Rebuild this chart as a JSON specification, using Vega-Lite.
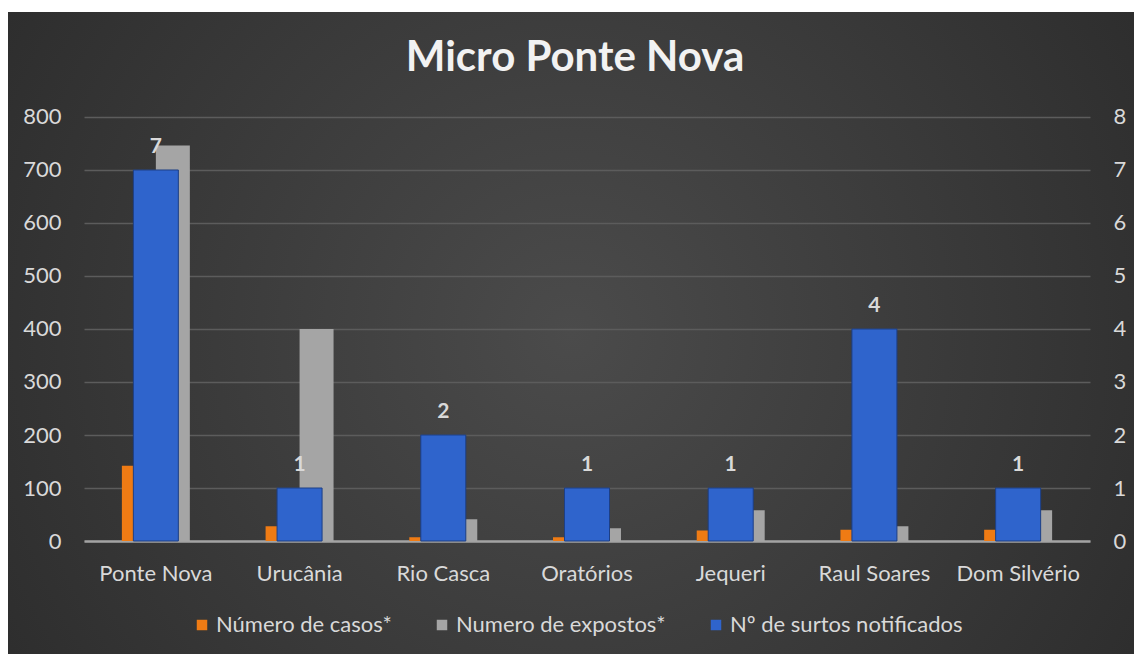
{
  "$schema": "https://vega.github.io/schema/vega-lite/v6.json",
  "width": 1126,
  "height": 642,
  "autosize": {"type": "none"},
  "padding": {"left": 8, "top": 12, "right": 0, "bottom": 0},
  "background": "white",
  "config": {
    "view": {
      "stroke": null,
      "fill": {
        "gradient": "radial",
        "stops": [
          {"offset": 0, "color": "#4b4b4b"},
          {"offset": 1, "color": "#252525"}
        ],
        "x1": 0.5, "y1": 0.5, "r1": 0,
        "x2": 0.5, "y2": 0.5, "r2": 0.75
      }
    },
    "font": "Lato"
  },
  "title": {
    "text": "Micro Ponte Nova",
    "font": "Lato",
    "fontSize": 42,
    "fontWeight": "bold",
    "color": "#f2f2f2",
    "anchor": "middle",
    "frame": "group",
    "orient": "top",
    "offset": -68,
    "dx": 4
  },
  "datasets": {
    "primary": [
      {"municipio": "Ponte Nova", "serie": "Número de casos*", "valor": 142},
      {"municipio": "Ponte Nova", "serie": "Numero de expostos*", "valor": 746},
      {"municipio": "Urucânia", "serie": "Número de casos*", "valor": 28},
      {"municipio": "Urucânia", "serie": "Numero de expostos*", "valor": 400},
      {"municipio": "Rio Casca", "serie": "Número de casos*", "valor": 7},
      {"municipio": "Rio Casca", "serie": "Numero de expostos*", "valor": 41},
      {"municipio": "Oratórios", "serie": "Número de casos*", "valor": 7},
      {"municipio": "Oratórios", "serie": "Numero de expostos*", "valor": 24},
      {"municipio": "Jequeri", "serie": "Número de casos*", "valor": 20},
      {"municipio": "Jequeri", "serie": "Numero de expostos*", "valor": 58},
      {"municipio": "Raul Soares", "serie": "Número de casos*", "valor": 21},
      {"municipio": "Raul Soares", "serie": "Numero de expostos*", "valor": 28},
      {"municipio": "Dom Silvério", "serie": "Número de casos*", "valor": 21},
      {"municipio": "Dom Silvério", "serie": "Numero de expostos*", "valor": 58}
    ],
    "surtos": [
      {"municipio": "Ponte Nova", "serie": "Nº de surtos notificados", "valor": 7},
      {"municipio": "Urucânia", "serie": "Nº de surtos notificados", "valor": 1},
      {"municipio": "Rio Casca", "serie": "Nº de surtos notificados", "valor": 2},
      {"municipio": "Oratórios", "serie": "Nº de surtos notificados", "valor": 1},
      {"municipio": "Jequeri", "serie": "Nº de surtos notificados", "valor": 1},
      {"municipio": "Raul Soares", "serie": "Nº de surtos notificados", "valor": 4},
      {"municipio": "Dom Silvério", "serie": "Nº de surtos notificados", "valor": 1}
    ]
  },
  "layer": [
    {
      "data": {"name": "primary"},
      "mark": {"type": "bar"},
      "encoding": {
        "x": {
          "field": "municipio",
          "type": "nominal",
          "sort": ["Ponte Nova", "Urucânia", "Rio Casca", "Oratórios", "Jequeri", "Raul Soares", "Dom Silvério"],
          "scale": {"range": [76, 1082], "paddingInner": 0.527, "paddingOuter": 0.2635},
          "axis": {
            "title": null,
            "orient": "bottom",
            "offset": -113,
            "ticks": false,
            "tickSize": 0,
            "labelAngle": 0,
            "labelFont": "Lato",
            "labelFontSize": 22,
            "labelColor": "#d9d9d9",
            "labelBaseline": "alphabetic",
            "labelPadding": 39,
            "domainColor": "#a3a3a3",
            "domainWidth": 2.5,
            "grid": false
          }
        },
        "xOffset": {
          "field": "serie",
          "type": "nominal",
          "sort": ["Número de casos*", "Numero de expostos*"],
          "scale": {"paddingInner": 0, "paddingOuter": 0}
        },
        "y": {
          "field": "valor",
          "type": "quantitative",
          "scale": {"domain": [-213.2, 998.1], "nice": false, "zero": false},
          "axis": {
            "title": null,
            "orient": "left",
            "offset": -55,
            "values": [0, 100, 200, 300, 400, 500, 600, 700, 800],
            "ticks": false,
            "tickSize": 0,
            "domain": false,
            "labelFont": "Lato",
            "labelFontSize": 22,
            "labelColor": "#d9d9d9",
            "labelPadding": 2,
            "grid": true,
            "gridColor": "#5c5c5c",
            "gridWidth": 1.5
          }
        },
        "y2": {"datum": 0},
        "color": {
          "field": "serie",
          "type": "nominal",
          "scale": {
            "domain": ["Número de casos*", "Numero de expostos*", "Nº de surtos notificados"],
            "range": ["#ef7b14", "#a5a5a5", "#2f64cc"]
          },
          "legend": {
            "title": null,
            "orient": "none",
            "legendX": 183,
            "legendY": 602,
            "direction": "horizontal",
            "columns": 3,
            "columnPadding": 39,
            "symbolType": "square",
            "symbolSize": 110,
            "symbolStrokeWidth": 0,
            "labelFont": "Lato",
            "labelFontSize": 22,
            "labelColor": "#d9d9d9",
            "labelOffset": 3,
            "labelLimit": 400
          }
        }
      }
    },
    {
      "data": {"name": "surtos"},
      "encoding": {
        "x": {
          "field": "municipio",
          "type": "nominal",
          "sort": ["Ponte Nova", "Urucânia", "Rio Casca", "Oratórios", "Jequeri", "Raul Soares", "Dom Silvério"]
        },
        "y": {
          "field": "valor",
          "type": "quantitative",
          "scale": {"domain": [-2.132, 9.981], "nice": false, "zero": false},
          "axis": {
            "title": null,
            "orient": "right",
            "offset": -23,
            "values": [0, 1, 2, 3, 4, 5, 6, 7, 8],
            "ticks": false,
            "tickSize": 0,
            "domain": false,
            "grid": false,
            "labelFont": "Lato",
            "labelFontSize": 22,
            "labelColor": "#d9d9d9",
            "labelPadding": 2
          }
        }
      },
      "layer": [
        {
          "mark": {"type": "bar", "width": 45, "stroke": "#1d3f85", "strokeWidth": 1},
          "encoding": {
            "y2": {"datum": 0},
            "color": {"field": "serie", "type": "nominal"}
          }
        },
        {
          "mark": {
            "type": "text",
            "baseline": "alphabetic",
            "dy": -17,
            "font": "Lato",
            "fontSize": 21,
            "fontWeight": "bold",
            "color": "#d9d9d9"
          },
          "encoding": {
            "text": {"field": "valor", "type": "quantitative"}
          }
        }
      ]
    }
  ],
  "resolve": {"scale": {"y": "independent"}}
}
